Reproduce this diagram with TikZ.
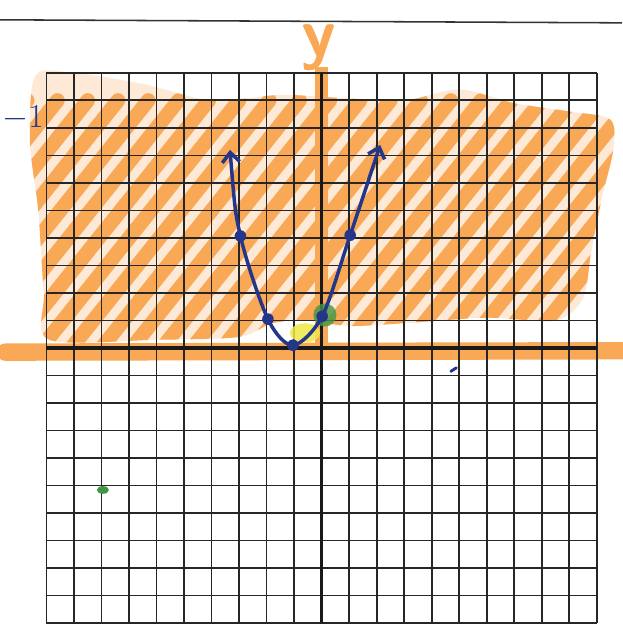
\documentclass[tikz,border=0pt]{standalone}
\usepackage{xcolor}
\usepackage{tikz}
\usetikzlibrary{arrows.meta}

\definecolor{marker}{RGB}{249,168,86}
\definecolor{pen}{RGB}{36,54,138}
\definecolor{hilite}{RGB}{238,232,70}
\definecolor{leaf}{RGB}{64,150,70}

\begin{document}
\begin{tikzpicture}[x=5mm,y=5mm,
  gridline/.style={black!85,line width=0.95pt},
  axisline/.style={black!90,line width=1.6pt},
  hatch/.style={marker,line width=7.5pt,line cap=round},
  band/.style={marker,line width=9pt,line cap=round},
  pt/.style={circle,fill=pen,inner sep=0pt,minimum size=6pt},
  curve/.style={pen,line width=1.8pt,{Straight Barb[length=5pt,width=9pt]}-{Straight Barb[length=5pt,width=9pt]}}]
\useasboundingbox (-11.69,-10.07) rectangle (10.93,12.65);
% edge of the sheet
\draw[black!80,line width=0.8pt] (-11.69,11.93) -- (10.93,11.82);
% shaded region y > -1
\begin{scope}
  \clip plot[smooth cycle] coordinates {(-10.4,9.9) (-9,10.0) (-6.5,9.6) (-4,9.0) (-1.5,9.2) (0.5,9.1) (3,9.0) (5,9.4) (7,8.9) (9,8.6) (10.5,8.3) (10.6,7.2) (10.2,5.5) (9.8,3.5) (9.5,1.8) (8.5,1.0) (6,1.1) (3,0.9) (1,0.8) (-0.5,1.0) (-1.8,0.9) (-3,0.4) (-6,0.3) (-9.9,0.3) (-10.1,2) (-10.3,5) (-10.6,7.5)};
  \fill[marker!25] (-11,0) rectangle (11,11);
  \foreach \k in {-22,-20.9,...,11} \draw[hatch] (\k,-1) -- ++(8,10);
\end{scope}
% highlighted axes
\draw[band] (-11.5,-0.15) -- (10.93,-0.1);
\draw[marker,line width=7pt] (0,0) -- (0,10.2);
\node[marker,font=\fontsize{36}{36}\selectfont\sffamily\bfseries,inner sep=0pt] (ylab) at (-0.1,10.9) {y};
\node[pen,font=\fontsize{18}{18}\selectfont,inner sep=0pt,anchor=west] (bound) at (-11.62,8.36) {$-1$};
% grid and axes
\draw[gridline,step=5mm] (-10,-10) grid (10,10);
\draw[axisline] (-10,0) -- (10,0);
\draw[axisline] (0,-10) -- (0,10);
% marks on the points
\fill[hilite,opacity=0.85] (-0.6,0.55) ellipse (0.55 and 0.35);
\fill[leaf,opacity=0.8] (0.12,1.2) circle (0.42);
% parabola
\draw[curve] plot[smooth] coordinates {(-3.33,7.2) (-2.95,4.07) (-1.95,1.05) (-1.04,0.1) (0.02,1.15) (1.04,4.1) (2.13,7.38)};
\node[pt] (p1) at (-2.95,4.07) {};
\node[pt] (p2) at (-1.95,1.05) {};
\node[pt] (p3) at (-1.04,0.1) {};
\node[pt] (p4) at (0.02,1.15) {};
\node[pt] (p5) at (1.04,4.1) {};
% stray marks
\fill[leaf] (-7.95,-5.16) ellipse (0.22 and 0.14);
\draw[pen,line width=1.5pt,line cap=round] (4.7,-0.85) -- (4.9,-0.72);
\end{tikzpicture}
\end{document}
